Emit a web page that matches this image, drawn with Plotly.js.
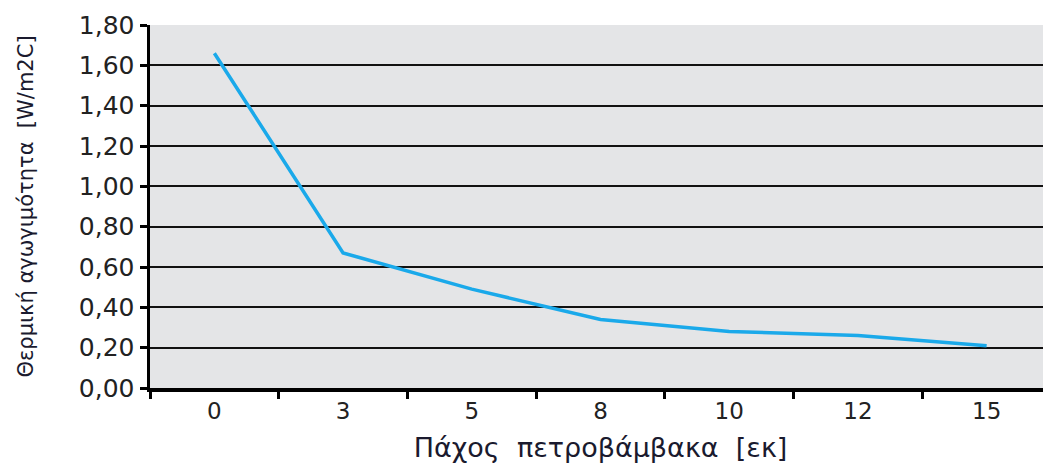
<!DOCTYPE html>
<html>
<head>
<meta charset="utf-8">
<script src="https://cdn.plot.ly/plotly-3.0.1.min.js"></script>
<style>
html,body{margin:0;padding:0;overflow:hidden;background:#fff;}
#chart{width:1060px;height:465px;}
</style>
</head>
<body>
<div id="chart"></div>
<script>
const categories = ['0','3','5','8','10','12','15'];
const conductivity = [1.66, 0.67, 0.49, 0.34, 0.28, 0.26, 0.21];
const xTitle = 'Πάχος  πετροβάμβακα  [εκ]';
const yTitle = 'Θερμική αγωγιμότητα  [W/m2C]';

const font = 'DejaVu Sans, sans-serif';

Plotly.newPlot('chart', [{
  type: 'scatter',
  mode: 'lines',
  x: categories,
  y: conductivity,
  line: {color: '#1aa9ea', width: 3.5},
  hoverinfo: 'skip'
}], {
  width: 1060,
  height: 465,
  margin: {l: 150, r: 9, t: 25, b: 77},
  paper_bgcolor: '#ffffff',
  plot_bgcolor: '#e4e5e7',
  separators: ',.',
  showlegend: false,
  font: {family: font, color: '#222'},
  xaxis: {
    type: 'category',
    range: [-0.5, 6.5],
    tickson: 'boundaries',
    ticks: 'outside',
    ticklen: 7,
    tickwidth: 3,
    tickcolor: '#000',
    showline: true,
    linecolor: '#000',
    linewidth: 3.5,
    showgrid: false,
    zeroline: false,
    tickfont: {family: font, size: 23, color: '#222'},
    title: {text: xTitle, font: {family: font, size: 27, color: '#1a1a2e'}, standoff: 16}
  },
  yaxis: {
    range: [0, 1.8],
    dtick: 0.2,
    tick0: 0,
    tickformat: '.2f',
    ticks: 'outside',
    ticklen: 7,
    tickwidth: 3,
    tickcolor: '#000',
    showline: true,
    linecolor: '#000',
    linewidth: 3.5,
    showgrid: true,
    gridcolor: '#111',
    gridwidth: 2.2,
    zeroline: false,
    tickfont: {family: font, size: 25, color: '#222'},
    title: {text: yTitle, font: {family: font, size: 21, color: '#1a1a2e'}, standoff: 40}
  }
}, {displayModeBar: false, staticPlot: true});
</script>
</body>
</html>
